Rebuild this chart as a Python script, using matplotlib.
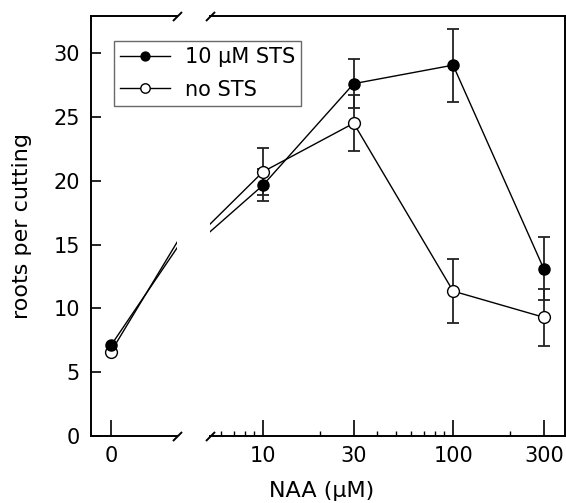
import matplotlib
matplotlib.use('Agg')
import matplotlib.pyplot as plt
from matplotlib.lines import Line2D

plt.rcParams['font.family'] = ['DejaVu Sans']

# ---- data ----
naa_conc = [10, 30, 100, 300]
sts_zero = 7.1
nosts_zero = 6.6
sts_vals = [19.65, 27.6, 29.05, 13.1]
sts_err = [1.25, 1.9, 2.85, 2.45]
nosts_vals = [20.7, 24.5, 11.35, 9.3]
nosts_err = [1.85, 2.2, 2.5, 2.25]
y_ticks = [0, 5, 10, 15, 20, 25, 30]
x_major = [10, 30, 100, 300]
x_major_labels = ['10', '30', '100', '300']
x_minor = [6, 7, 8, 9, 20, 40, 50, 60, 70, 80, 90, 200]
series_names = ['10 \u00b5M STS', 'no STS']

# ---- layout ----
W, H = 566, 503
fig = plt.figure(figsize=(W / 100, H / 100), dpi=100)
bot = 67 / H
hgt = 420 / H
axL = fig.add_axes([91 / W, bot, 86 / W, hgt])
axR = fig.add_axes([210 / W, bot, 355 / W, hgt])

ylim = (0, 32.9)
FS = 15
FSL = 16
lw_sp = 1.4

# virtual positions of the other segment's point (for the lines crossing the break)
x10_on_left = 5.43
x0_on_right = 1.1

line_kw = dict(color='black', lw=1.0)
fill_kw = dict(marker='o', ms=8, mfc='black', mec='black', mew=1.0)
open_kw = dict(marker='o', ms=8.5, mfc='white', mec='black', mew=1.0)

# left part (x = 0)
axL.plot([0, x10_on_left], [sts_zero, sts_vals[0]], zorder=2, **line_kw)
axL.plot([0, x10_on_left], [nosts_zero, nosts_vals[0]], zorder=2, **line_kw)
axL.plot([0], [nosts_zero], ls='none', zorder=4, **open_kw)
axL.plot([0], [sts_zero], ls='none', zorder=4, **fill_kw)
axL.set_xlim(-1, 3.3)
axL.set_ylim(*ylim)

# right part (log axis)
axR.set_xscale('log')
axR.plot([x0_on_right, naa_conc[0]], [sts_zero, sts_vals[0]], zorder=2, **line_kw)
axR.plot([x0_on_right, naa_conc[0]], [nosts_zero, nosts_vals[0]], zorder=2, **line_kw)
axR.errorbar(naa_conc, sts_vals, yerr=sts_err, fmt='none', ecolor='#222222',
             elinewidth=1.3, capsize=4.3, capthick=1.3, zorder=1)
axR.errorbar(naa_conc, nosts_vals, yerr=nosts_err, fmt='none', ecolor='#222222',
             elinewidth=1.3, capsize=4.3, capthick=1.3, zorder=1)
axR.plot(naa_conc, sts_vals, zorder=3, **line_kw, **fill_kw)
axR.plot(naa_conc, nosts_vals, zorder=3, **line_kw, **open_kw)
axR.set_xlim(5.26, 388)
axR.set_ylim(*ylim)

# spines
for ax in (axL, axR):
    for s in ax.spines.values():
        s.set_linewidth(lw_sp)
axL.spines['right'].set_visible(False)
axR.spines['left'].set_visible(False)

# ticks
axL.set_xticks([0])
axL.set_xticklabels(['0'])
axL.set_yticks(y_ticks)
axL.tick_params(axis='y', direction='in', length=7, width=1.2, labelsize=FS, pad=8)
axL.tick_params(axis='x', direction='in', length=11.5, width=1.2, labelsize=FS, pad=7)
axR.set_xticks(x_major)
axR.set_xticklabels(x_major_labels)
axR.set_xticks(x_minor, minor=True)
axR.set_xticklabels([], minor=True)
axR.tick_params(axis='x', which='major', direction='in', length=11.5, width=1.2,
                labelsize=FS, pad=7)
axR.tick_params(axis='x', which='minor', direction='in', length=3.5, width=1.0)
axR.set_yticks([])
axR.tick_params(axis='y', left=False, right=False, labelleft=False)

# break marks
brk = dict(marker=[(-1, -1), (1, 1)], markersize=6.5, linestyle='none',
           color='black', mec='black', mew=1.4, clip_on=False)
axL.plot([1, 1], [0, 1], transform=axL.transAxes, **brk)
axR.plot([0, 0], [0, 1], transform=axR.transAxes, **brk)

# labels
fig.text(322 / W, 1 - 491 / H, 'NAA (\u00b5M)', ha='center', va='center', fontsize=FSL)
fig.text(22 / W, 1 - 226 / H, 'roots per cutting', ha='center', va='center',
         rotation=90, fontsize=FSL)

# legend
handles = [Line2D([], [], **line_kw, **fill_kw), Line2D([], [], **line_kw, **open_kw)]
leg = fig.legend(handles, series_names, loc='upper left',
                 bbox_to_anchor=(114 / W, 1 - 41 / H), fontsize=FS, frameon=True,
                 fancybox=False, edgecolor='#444444', handlelength=2.4,
                 handletextpad=0.7, borderpad=0.3, labelspacing=0.6,
                 borderaxespad=0, markerscale=0.8)
leg.get_frame().set_linewidth(1.0)

fig.savefig('out.png', dpi=100)
